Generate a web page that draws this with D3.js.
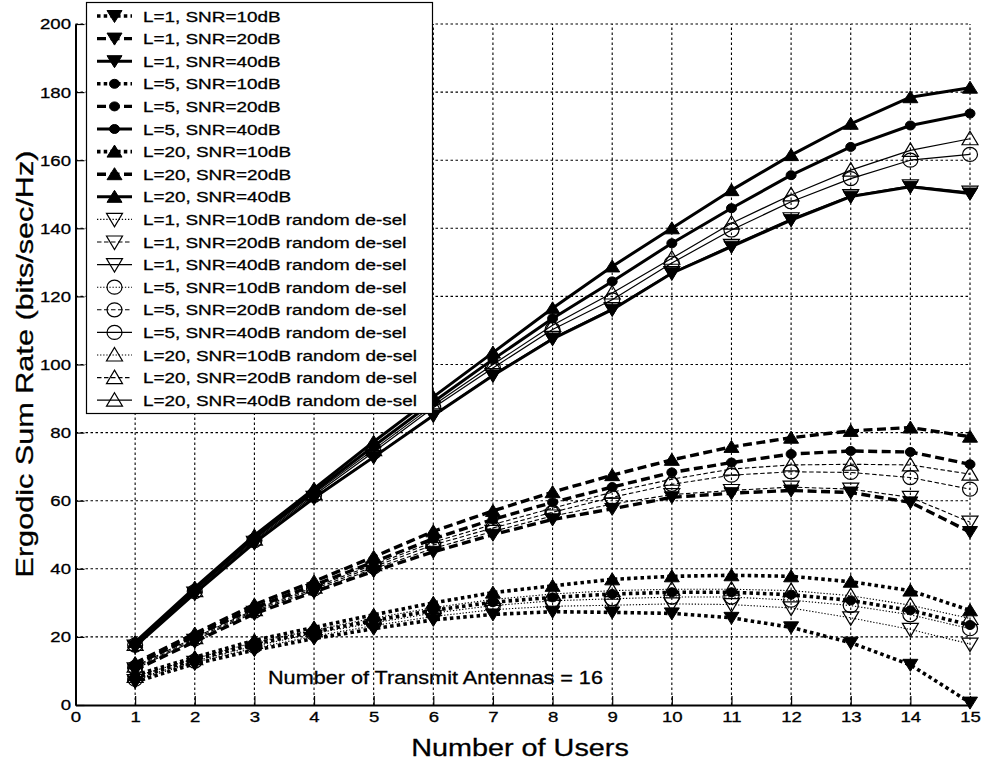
<!DOCTYPE html>
<html>
<head>
<meta charset="utf-8">
<script src="https://cdn.jsdelivr.net/npm/d3@7"></script>
<style>
  body { margin: 0; background: #fff; }
  text { font-family: "Liberation Sans", Arial, Helvetica, sans-serif; fill: #000; stroke: #000; stroke-width: 0.3px; }
</style>
</head>
<body>
<div id="chart"></div>
<script>
const width = 982;
const height = 765;

const users = d3.range(1, 16);
const xTicks = d3.range(0, 16);
const yTicks = d3.range(0, 201, 20);

// SNR = 40dB (solid)
const l1_40  = [17.2, 32.8, 47.6, 60.8, 72.8, 85.0, 96.8, 107.5, 116.1, 126.8, 134.6, 142.4, 149.3, 152.2, 150.2];
const l5_40  = [18.0, 34.0, 49.2, 62.7, 76.0, 89.0, 101.5, 113.5, 124.4, 135.6, 145.9, 155.6, 163.9, 170.2, 173.7];
const l20_40 = [18.5, 34.5, 49.8, 63.5, 77.3, 90.5, 103.5, 116.5, 128.8, 140.0, 151.2, 161.5, 170.7, 178.5, 181.3];
const r1_40  = [17.3, 32.9, 47.8, 61.0, 73.0, 85.2, 97.0, 107.8, 116.4, 127.0, 135.0, 142.8, 149.6, 152.5, 150.6];
const r5_40  = [17.6, 33.3, 48.3, 61.6, 74.3, 87.3, 99.0, 110.3, 119.0, 129.8, 139.5, 147.8, 154.6, 160.0, 161.7];
const r20_40 = [17.8, 33.6, 48.7, 62.1, 75.0, 88.0, 100.0, 111.5, 121.0, 131.2, 141.5, 149.8, 157.1, 162.9, 166.3];

// SNR = 20dB (dashed)
const l1_20  = [10.3, 18.6, 26.8, 33.2, 39.3, 45.0, 50.0, 54.5, 57.6, 61.0, 62.2, 63.0, 62.4, 59.5, 50.8];
const l5_20  = [11.8, 20.3, 28.6, 35.2, 42.0, 48.8, 54.5, 59.5, 64.0, 68.3, 71.2, 73.7, 74.6, 74.3, 70.7];
const l20_20 = [12.3, 21.0, 29.5, 36.3, 43.5, 51.0, 57.0, 62.5, 67.5, 72.0, 75.8, 78.5, 80.5, 81.5, 78.8];
const r1_20  = [10.6, 19.0, 27.2, 33.6, 40.0, 46.0, 51.0, 55.5, 59.0, 61.8, 63.0, 64.0, 63.4, 61.0, 53.7];
const r5_20  = [11.0, 19.4, 27.6, 34.1, 40.6, 47.0, 52.0, 56.6, 61.0, 64.8, 67.5, 68.5, 68.3, 66.8, 63.4];
const r20_20 = [11.4, 19.8, 28.0, 34.6, 41.2, 47.8, 53.0, 57.8, 62.5, 66.3, 69.3, 70.5, 70.7, 70.5, 67.8];

// SNR = 10dB (dotted)
const l1_10  = [6.8, 12.1, 16.1, 19.5, 22.4, 25.0, 26.6, 27.4, 27.2, 26.9, 25.6, 22.8, 18.3, 11.8, 0.7];
const l5_10  = [8.0, 13.3, 17.9, 21.5, 24.8, 27.8, 30.2, 31.6, 32.6, 33.1, 33.1, 32.4, 30.7, 27.8, 23.5];
const l20_10 = [8.8, 14.0, 19.0, 22.8, 26.5, 30.0, 33.0, 35.0, 36.9, 37.8, 38.1, 37.8, 36.2, 33.6, 27.8];
const r1_10  = [7.2, 12.5, 16.7, 20.2, 23.3, 26.0, 28.0, 29.0, 29.3, 29.7, 29.5, 28.5, 25.6, 22.2, 17.9];
const r5_10  = [7.6, 12.9, 17.3, 21.0, 24.1, 27.0, 29.2, 30.6, 31.2, 31.7, 31.7, 30.8, 29.2, 26.5, 22.4];
const r20_10 = [8.4, 13.6, 18.4, 22.0, 25.5, 28.6, 31.0, 32.6, 33.6, 34.0, 34.0, 33.6, 32.1, 29.3, 25.4];

// legend order, like the figure
const series = [
  { label: "L=1, SNR=10dB",  values: l1_10,  dash: "dot",   marker: "down",   filled: true },
  { label: "L=1, SNR=20dB",  values: l1_20,  dash: "dash",  marker: "down",   filled: true },
  { label: "L=1, SNR=40dB",  values: l1_40,  dash: "solid", marker: "down",   filled: true },
  { label: "L=5, SNR=10dB",  values: l5_10,  dash: "dot",   marker: "circle", filled: true },
  { label: "L=5, SNR=20dB",  values: l5_20,  dash: "dash",  marker: "circle", filled: true },
  { label: "L=5, SNR=40dB",  values: l5_40,  dash: "solid", marker: "circle", filled: true },
  { label: "L=20, SNR=10dB", values: l20_10, dash: "dot",   marker: "up",     filled: true },
  { label: "L=20, SNR=20dB", values: l20_20, dash: "dash",  marker: "up",     filled: true },
  { label: "L=20, SNR=40dB", values: l20_40, dash: "solid", marker: "up",     filled: true },
  { label: "L=1, SNR=10dB random de-sel",  values: r1_10,  dash: "dot",   marker: "down",   filled: false },
  { label: "L=1, SNR=20dB random de-sel",  values: r1_20,  dash: "dash",  marker: "down",   filled: false },
  { label: "L=1, SNR=40dB random de-sel",  values: r1_40,  dash: "solid", marker: "down",   filled: false },
  { label: "L=5, SNR=10dB random de-sel",  values: r5_10,  dash: "dot",   marker: "circle", filled: false },
  { label: "L=5, SNR=20dB random de-sel",  values: r5_20,  dash: "dash",  marker: "circle", filled: false },
  { label: "L=5, SNR=40dB random de-sel",  values: r5_40,  dash: "solid", marker: "circle", filled: false },
  { label: "L=20, SNR=10dB random de-sel", values: r20_10, dash: "dot",   marker: "up",     filled: false },
  { label: "L=20, SNR=20dB random de-sel", values: r20_20, dash: "dash",  marker: "up",     filled: false },
  { label: "L=20, SNR=40dB random de-sel", values: r20_40, dash: "solid", marker: "up",     filled: false }
];

const svg = d3.select("#chart")
  .append("svg")
  .attr("width", width)
  .attr("height", height)
  .style("background", "#fff");

const x = d3.scaleLinear().domain([0, 15]).range([75.5, 970]);
const y = d3.scaleLinear().domain([0, 200]).range([705, 24]);

// the scanned figure has wide letters, so text gets stretched a bit
const stretch = 1.2;

// grid (dotted)
const grid = svg.append("g");
grid.selectAll(".gx")
  .data(users)
  .enter().append("line")
  .attr("x1", d => x(d)).attr("x2", d => x(d))
  .attr("y1", y(0)).attr("y2", y(200))
  .attr("stroke", "#000").attr("stroke-width", 1.1)
  .attr("stroke-dasharray", "2.5,2.5");
grid.selectAll(".gy")
  .data(yTicks.filter(d => d > 0))
  .enter().append("line")
  .attr("x1", x(0)).attr("x2", x(15))
  .attr("y1", d => y(d)).attr("y2", d => y(d))
  .attr("stroke", "#000").attr("stroke-width", 1.1)
  .attr("stroke-dasharray", "2.5,2.5");

function strokeStyle(s) {
  if (s.filled) {
    if (s.dash === "dot") return { w: 3.6, dash: "3.5,3.2" };
    if (s.dash === "dash") return { w: 3.4, dash: "9,4.5" };
    return { w: 3, dash: null };
  }
  if (s.dash === "dot") return { w: 1.1, dash: "1.3,1.8" };
  if (s.dash === "dash") return { w: 1.1, dash: "4.5,2.5" };
  return { w: 1.2, dash: null };
}

function drawMarker(g, s) {
  if (s.marker === "circle") {
    g.append("ellipse")
      .attr("rx", s.filled ? 5 : 7.5)
      .attr("ry", s.filled ? 4.5 : 7)
      .attr("fill", s.filled ? "#000" : "none")
      .attr("stroke", "#000")
      .attr("stroke-width", s.filled ? 1 : 1.2);
  } else {
    let p;
    if (s.marker === "down") {
      p = s.filled ? "M-7.5,-5.5L7.5,-5.5L0,6.5Z" : "M-8,-6L8,-6L0,7.5Z";
    } else {
      p = s.filled ? "M0,-6.5L7.5,5.5L-7.5,5.5Z" : "M0,-7.5L8,6L-8,6Z";
    }
    g.append("path")
      .attr("d", p)
      .attr("fill", s.filled ? "#000" : "none")
      .attr("stroke", "#000")
      .attr("stroke-width", s.filled ? 1 : 1.2)
      .attr("stroke-linejoin", "miter");
  }
}

const line = d3.line()
  .x((d, i) => x(users[i]))
  .y(d => y(d));

const plot = svg.append("g");
series.forEach(s => {
  const st = strokeStyle(s);
  plot.append("path")
    .datum(s.values)
    .attr("d", line)
    .attr("fill", "none")
    .attr("stroke", "#000")
    .attr("stroke-width", st.w)
    .attr("stroke-dasharray", st.dash)
    .attr("stroke-linejoin", "round");
  s.values.forEach((v, i) => {
    const m = plot.append("g")
      .attr("transform", `translate(${x(users[i])},${y(v)})`);
    drawMarker(m, s);
  });
});

// axes, MATLAB style: ticks pointing inwards
const xAxis = svg.append("g")
  .attr("transform", `translate(0,${y(0)})`)
  .call(d3.axisBottom(x).tickValues(xTicks).tickSizeInner(-9).tickSizeOuter(0).tickPadding(6).tickFormat(d3.format("d")));
const yAxis = svg.append("g")
  .attr("transform", `translate(${x(0)},0)`)
  .call(d3.axisLeft(y).tickValues(yTicks).tickSizeInner(-9).tickSizeOuter(0).tickPadding(5).tickFormat(d3.format("d")));

[xAxis, yAxis].forEach(a => {
  a.select(".domain").attr("stroke", "#000").attr("stroke-width", 2);
  a.selectAll(".tick line").attr("stroke", "#000").attr("stroke-width", 1.2);
  a.selectAll(".tick text")
    .attr("font-size", 15.5)
    .attr("font-family", null)
    .attr("fill", "#000");
});
xAxis.selectAll(".tick text").attr("transform", `scale(${stretch},1)`);
yAxis.selectAll(".tick text")
  .attr("x", -4.5 / stretch)
  .attr("transform", `scale(${stretch},1)`);

// axis titles
svg.append("text")
  .attr("transform", `translate(520,756) scale(${stretch},1)`)
  .attr("text-anchor", "middle")
  .attr("font-size", 24)
  .text("Number of Users");

svg.append("text")
  .attr("transform", `translate(33,364) rotate(-90) scale(1.25,1)`)
  .attr("text-anchor", "middle")
  .attr("font-size", 24.5)
  .text("Ergodic Sum Rate (bits/sec/Hz)");

svg.append("text")
  .attr("transform", `translate(268,684) scale(1.17,1)`)
  .attr("font-size", 18.5)
  .text("Number of Transmit Antennas = 16");

// legend
const legend = svg.append("g");
const rowH = 22.6;
legend.append("rect")
  .attr("x", 86.5).attr("y", 2.5)
  .attr("width", 346).attr("height", 411)
  .attr("fill", "#fff")
  .attr("stroke", "#000")
  .attr("stroke-width", 1.2);

series.forEach((s, i) => {
  const st = strokeStyle(s);
  const row = legend.append("g")
    .attr("transform", `translate(0,${16 + i * rowH})`);
  row.append("line")
    .attr("x1", 97).attr("x2", 132)
    .attr("stroke", "#000")
    .attr("stroke-width", st.w)
    .attr("stroke-dasharray", st.dash);
  drawMarker(row.append("g").attr("transform", "translate(114.5,0)"), s);
  row.append("text")
    .attr("transform", `translate(143,5.5) scale(1.22,1)`)
    .attr("font-size", 15.5)
    .text(s.label);
});
</script>
</body>
</html>
